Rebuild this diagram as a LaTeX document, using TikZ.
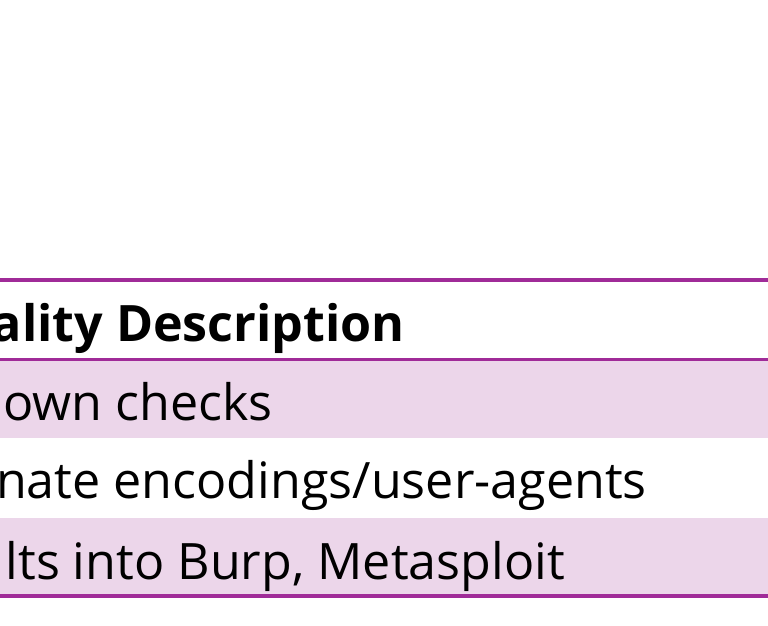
\documentclass[tikz,border=0pt]{standalone}
\usepackage{fontspec}
\setmainfont{Open Sans}
\definecolor{rulepurple}{RGB}{160,43,152}
\definecolor{rowpink}{RGB}{236,214,234}
\begin{document}
\begin{tikzpicture}[x=1pt, y=-1pt,
  cell/.style={anchor=base east, inner sep=0pt, font=\fontsize{50.2}{56}\selectfont},
  headcell/.style={cell, font=\fontsize{50.2}{56}\selectfont\bfseries},
  tablerule/.style={rulepurple, line width=3.6pt}]
\useasboundingbox (0,0) rectangle (768,626);
\clip (0,0) rectangle (768,626);
% shaded rows
\fill[rowpink] (0,361) rectangle (768,438);
\fill[rowpink] (0,518) rectangle (768,594);
% rules
\draw[tablerule] (0,280.2) -- (768,280.2);
\draw[tablerule] (0,359.3) -- (768,359.3);
\draw[tablerule] (0,596) -- (768,596);
% cells
\path (405,341) node[headcell] (head) {ality Description};
\path (273,420) node[cell] (rowA) {own checks};
\path (647,498) node[cell] (rowB) {nate encodings/user-agents};
\path (565,579) node[cell] (rowC) {lts into Burp, Metasploit};
\end{tikzpicture}
\end{document}
